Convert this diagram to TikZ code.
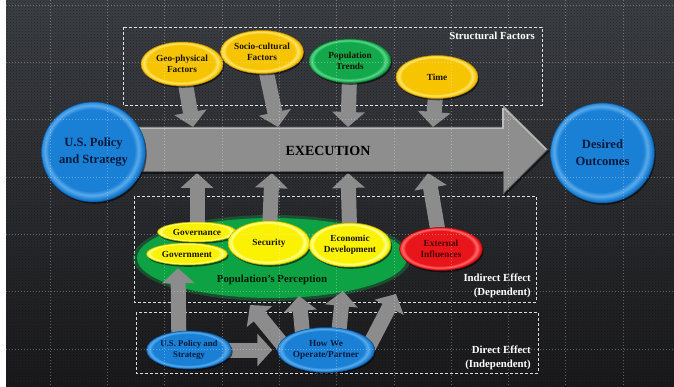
\documentclass[tikz,border=0pt]{standalone}
\usepackage{fontspec}
\setmainfont{Liberation Serif}
\usetikzlibrary{shapes.geometric,arrows.meta,shadows,patterns}
\pgfdeclarelayer{bglayer}
\pgfdeclarelayer{arrlayer}
\pgfdeclarelayer{fglayer}
\pgfsetlayers{bglayer,arrlayer,main,fglayer}
\definecolor{cBgT}{HTML}{3C3F44}
\definecolor{cBgB}{HTML}{1A1A1C}
\definecolor{cGold}{HTML}{F6C400}
\definecolor{cGoldL}{HTML}{FFE46A}
\definecolor{cGoldD}{HTML}{C08E00}
\definecolor{cLemon}{HTML}{FAF200}
\definecolor{cLemonL}{HTML}{FFFF90}
\definecolor{cLemonD}{HTML}{B8AA00}
\definecolor{cGreen}{HTML}{14A84C}
\definecolor{cGreenL}{HTML}{5CD68A}
\definecolor{cGreenD}{HTML}{0A6E30}
\definecolor{cBig}{HTML}{0DA344}
\definecolor{cRed}{HTML}{E8161B}
\definecolor{cRedL}{HTML}{FF6A6A}
\definecolor{cRedD}{HTML}{9A080C}
\definecolor{cBlue}{HTML}{1A80D6}
\definecolor{cBlueL}{HTML}{5AAAEA}
\definecolor{cBlueD}{HTML}{0C5296}
\definecolor{cNavy}{HTML}{0B1A3C}
\definecolor{cArrow}{HTML}{8C8C8C}
\definecolor{cExec}{HTML}{8E8E8E}
\definecolor{cExecL}{HTML}{BDBDBD}
\definecolor{cExecD}{HTML}{5E5E5E}
\definecolor{cDarkTxt}{HTML}{1A1400}
\definecolor{cRedTxt}{HTML}{4A0000}
\newcommand\bevshade[4]{\pgfdeclareradialshading{#1}{\pgfpoint{-1.5bp}{1.5bp}}{color(0bp)=(#2); color(20.5bp)=(#2); color(22.5bp)=(#3); color(24.5bp)=(#2); color(26.5bp)=(#4); color(50bp)=(#4)}}
\bevshade{goldbev}{cGold}{cGoldL}{cGoldD}
\bevshade{lemonbev}{cLemon}{cLemonL}{cLemonD}
\bevshade{greenbev}{cGreen}{cGreenL}{cGreenD}
\bevshade{redbev}{cRed}{cRedL}{cRedD}
\bevshade{bluebev}{cBlue}{cBlueL}{cBlueD}
\tikzset{
  ell/.style={ellipse, inner sep=0pt, align=center, text=cDarkTxt,
    font=\fontsize{9.3}{11}\selectfont\bfseries, line width=0.5pt,
    drop shadow={shadow xshift=1.2pt, shadow yshift=-1.8pt, opacity=0.55, fill=black}},
  goldell/.style={ell, shade, shading=goldbev, draw=cGoldD, minimum width=82pt, minimum height=44pt},
  lemonell/.style={ell, shade, shading=lemonbev, draw=cLemonD, minimum width=82pt, minimum height=44pt},
  greenell/.style={ell, shade, shading=greenbev, draw=cGreenD, minimum width=82pt, minimum height=44pt},
  redell/.style={ell, shade, shading=redbev, draw=cRedD, text=cRedTxt, minimum width=83pt, minimum height=43pt},
  blueell/.style={ell, shade, shading=bluebev, draw=cBlueD, text=cNavy},
  bigc/.style={blueell, minimum width=104pt, minimum height=100pt,
    font=\fontsize{12.6}{17}\selectfont\bfseries},
  blk/.style={draw=cArrow, line width=15pt, -{Triangle[length=15pt,width=32pt]}},
  boxd/.style={draw=white, line width=0.7pt, dash pattern=on 3pt off 2pt, opacity=0.85},
  gridl/.style={draw=white, opacity=0.3, line width=0.6pt, dash pattern=on 1pt off 2pt},
  wlabel/.style={text=white, font=\fontsize{10.8}{13.5}\selectfont\bfseries, align=right, inner sep=0pt},
}
\begin{document}
\begin{tikzpicture}[x=1pt,y=-1pt]
\useasboundingbox (0,0) rectangle (674,387);
\begin{pgfonlayer}{bglayer}
  \fill[white] (0,0) rectangle (674,387);
  \shade[top color=cBgT, bottom color=cBgB] (6,0) rectangle (674,387);
  \fill[pattern=crosshatch dots, pattern color=black, opacity=0.35] (6,0) rectangle (674,387);
  \draw[boxd] (123,27) rectangle (542,105);
  \draw[boxd] (134,196) rectangle (536,302);
  \draw[boxd] (136,312) rectangle (538,373);
  \fill[cBig, opacity=0.35] (272,258) ellipse [x radius=139pt, y radius=43pt];
  \node[ellipse, fill=cBig, minimum width=270pt, minimum height=80pt, inner sep=0pt] (percep) at (272,258) {};
\end{pgfonlayer}

% Execution arrow
\path[fill=cExec, drop shadow={shadow xshift=1.5pt, shadow yshift=-2pt, opacity=0.5, fill=black}]
  (120,127) -- (503,127) -- (503,105) -- (548,149.5) -- (503,194) -- (503,172) -- (120,172) -- cycle;
\draw[cExecL, line width=1.6pt] (120,128.5) -- (503,128.5) -- (503,108.5);
\draw[cExecL, line width=1.2pt] (504.5,108.5) -- (546,149.5);
\draw[cExecD, line width=1pt] (120,171.5) -- (503,171.5) -- (503,193);
\draw[cExecD, line width=1pt] (503.5,193.5) -- (547.5,149.5);
\node[font=\fontsize{14}{16}\selectfont\bfseries, text=black] (exec) at (328,151) {EXECUTION};

% connector end points on the execution arrow
\coordinate (d1) at (193,127);
\coordinate (d2) at (278,127);
\coordinate (d3) at (348,127);
\coordinate (d4) at (433,127);
\coordinate (u1) at (197,173);
\coordinate (u2) at (272,173);
\coordinate (u3) at (348,173);
\coordinate (u4) at (428,173);
\coordinate (fa) at (250,305);
\coordinate (fb) at (299,296);
\coordinate (fc) at (343,291);
\coordinate (fd) at (396,294);

% big circles
\node[bigc] (usBig) at (93.5,152) {U.S. Policy\\and Strategy};
\node[bigc] (outc) at (602.5,153) {Desired\\Outcomes};

% structural factors
\node[goldell] (geo) at (182,64) {Geo-physical\\Factors};
\node[goldell, minimum width=83pt, minimum height=43pt] (socio) at (262,52) {Socio-cultural\\Factors};
\node[greenell] (pop) at (350,61) {Population\\Trends};
\node[goldell, minimum height=43pt] (time) at (437,77) {Time};

% indirect
\node[lemonell, minimum width=79pt, minimum height=20pt] (govn) at (197,232) {Governance};
\node[lemonell, minimum width=81pt, minimum height=22pt] (govt) at (187,254) {Government};
\node[lemonell] (sec) at (269,243) {Security};
\node[lemonell] (econ) at (350,245) {Economic\\Development};
\node[redell] (ext) at (441,249) {External\\Influences};
\node[font=\fontsize{10.8}{12}\selectfont\bfseries, text=black!90!green] (perlab) at (272,280) {Population’s Perception};

% direct
\node[blueell, minimum width=85pt, minimum height=38pt, font=\fontsize{8.8}{10.5}\selectfont\bfseries] (usS) at (189,350) {U.S. Policy and\\Strategy};
\node[blueell, minimum width=97pt, minimum height=45pt] (how) at (326,350) {How We\\Operate/Partner};

\begin{pgfonlayer}{arrlayer}
  \draw[blk] (geo.center) -- (d1);
  \draw[blk] (socio.center) -- (d2);
  \draw[blk] (pop.center) -- (d3);
  \draw[blk] (time.center) -- (d4);
  \draw[blk] (govn.center) -- (u1);
  \draw[blk] (sec.center) -- (u2);
  \draw[blk] (econ.center) -- (u3);
  \draw[blk] (ext.center) -- (u4);
  \draw[blk] ([xshift=-10pt]usS.center) -- ([xshift=-9pt,yshift=-3pt]govt.south);
  \draw[blk] (usS.center) -- ([xshift=-5pt]how.west);
  \draw[blk] ([xshift=-39pt]how.center) -- (fa);
  \draw[blk] ([xshift=-22pt]how.center) -- (fb);
  \draw[blk] ([xshift=11pt]how.center) -- (fc);
  \draw[blk] ([xshift=41pt]how.center) -- (fd);
\end{pgfonlayer}

% labels
\node[wlabel, anchor=east] (lstruct) at (535,36) {Structural Factors};
\node[wlabel, anchor=east] (lind) at (531,286) {Indirect Effect\\(Dependent)};
\node[wlabel, anchor=east] (ldir) at (531,358) {Direct Effect\\(Independent)};

\begin{pgfonlayer}{fglayer}
  \foreach \i in {0,...,10} \draw[gridl] ({50+57.3*\i},0) -- ({50+57.3*\i},387);
  \foreach \j in {0,...,6} \draw[gridl] (6,{5+57.3*\j}) -- (674,{5+57.3*\j});
\end{pgfonlayer}
\end{tikzpicture}
\end{document}
